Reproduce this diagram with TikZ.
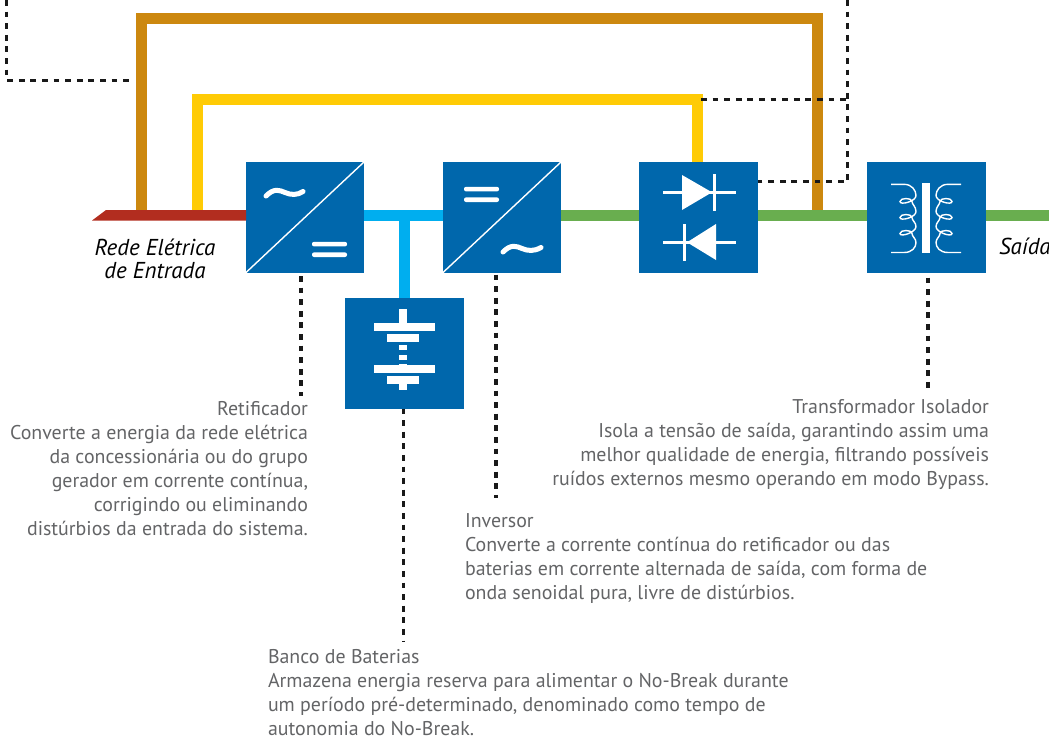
\documentclass[tikz,border=0pt]{standalone}
\usepackage{fontspec}
\setmainfont{PT Sans}
\definecolor{boxblue}{HTML}{0067AC}
\definecolor{dcblue}{HTML}{00AEEF}
\definecolor{acgreen}{HTML}{69AE4F}
\definecolor{inred}{HTML}{B22D1F}
\definecolor{bypassorange}{HTML}{CC880F}
\definecolor{diodeyellow}{HTML}{FFCB05}
\definecolor{txtgray}{HTML}{636466}
\tikzset{
  unitbox/.style={fill=boxblue,draw=none,minimum width=118.5pt,minimum height=110.5pt,inner sep=0pt,outer sep=0pt},
  powerline/.style={line width=11pt,line join=miter},
  signal/.style={line width=3.4pt,black!90,dash pattern=on 5.8pt off 5.8pt},
  icon/.style={fill=white,draw=none},
  wave/.style={white,line width=5pt,line cap=round},
  coilline/.style={white,line width=1.4pt},
  desc/.style={inner sep=0pt,outer sep=0pt,txtgray,font=\fontsize{19.9}{24}\selectfont},
  inlabel/.style={inner sep=0pt,outer sep=0pt,black,font=\fontsize{23}{23}\selectfont\itshape,align=center}
}
\newcommand{\coilshape}{%
  (-35,-34.2) -- (-22,-34.2) .. controls (-14,-34.2) and (-10,-28) .. (-10,-23)
  .. controls (-10,-17) and (-26,-13) .. (-26,-17)
  .. controls (-26,-21) and (-14,-21) .. (-14,-17)
  .. controls (-14,-14) and (-10,-12) .. (-10,-7)
  .. controls (-10,-1) and (-26,3) .. (-26,-1)
  .. controls (-26,-5) and (-14,-5) .. (-14,-1)
  .. controls (-14,2) and (-10,4) .. (-10,8)
  .. controls (-10,14) and (-26,19) .. (-26,15)
  .. controls (-26,11) and (-14,11) .. (-14,15)
  .. controls (-14,18) and (-10,20) .. (-10,24)
  .. controls (-10,29) and (-14,34) .. (-22,34) -- (-35,34)}
\begin{document}
\begin{tikzpicture}[x=1pt,y=-1pt]
\useasboundingbox (0,0) rectangle (1049,740);
\clip (0,0) rectangle (1049,740);
% units
\node[unitbox,anchor=north west,minimum width=118pt] (rect) at (246,162) {};
\node[unitbox,anchor=north west,minimum width=118pt] (inv) at (443,162) {};
\node[unitbox,anchor=north west] (bypass) at (639,162) {};
\node[unitbox,anchor=north west] (trafo) at (867,162) {};
\node[unitbox,anchor=north west] (batt) at (345,298) {};
% free ends
\coordinate (inL) at (106,215);
\coordinate (outR) at (1049,215.5);
\coordinate (dcT) at (404.5,215.5);
\coordinate (orgA) at (141,210);
\coordinate (orgB) at (817.5,210);
\coordinate (yelA) at (197,210);
\coordinate (yelB) at (697,162);
% power lines
\fill[inred] (92,220.5) -- (106,210) -- (rect.north west |- 0,210) -- (rect.north west |- 0,220.5) -- cycle;
\draw[powerline,dcblue] (rect.east |- dcT) -- (inv.west |- dcT);
\draw[powerline,dcblue] (dcT) -- (batt.north -| dcT);
\draw[powerline,acgreen] (inv.east |- outR) -- (bypass.west |- outR);
\draw[powerline,acgreen] (bypass.east |- outR) -- (trafo.west |- outR);
\draw[powerline,acgreen] (trafo.east |- outR) -- (outR);
\draw[powerline,bypassorange] (orgA) -- (141,18.5) -- (817.5,18.5) -- (orgB);
\draw[powerline,diodeyellow] (yelA) -- (197,99.5) -- (697,99.5) -- (yelB);
% control signals
\draw[signal] (6.5,0) -- (6.5,80.5) -- (134,80.5);
\draw[signal] (701,99.5) -- (847.7,99.5);
\draw[signal] (847.7,0) -- (847.7,181.5) -- (bypass.east |- 0,181.5);
% leader lines
\coordinate (retEnd) at (301,396);
\coordinate (invEnd) at (496,498);
\coordinate (batEnd) at (403.5,641);
\coordinate (traEnd) at (928,392);
\draw[signal] (rect.south -| retEnd) ++(0,3.5) -- (retEnd);
\draw[signal] (inv.south -| invEnd) ++(0,2) -- (invEnd);
\draw[signal] (batt.south -| batEnd) -- (batEnd);
\draw[signal] (trafo.south -| traEnd) ++(0,5) -- (traEnd);
% converter icons
\draw[white,line width=1.4pt] (rect.north east) -- (rect.south west);
\draw[white,line width=1.4pt] (inv.north east) -- (inv.south west);
\draw[wave] (266,196) .. controls (274,188) and (279,190) .. (285,192.5) .. controls (291,195) and (297,195.5) .. (303,191.5);
\draw[wave] (503,252) .. controls (511,244) and (516,246) .. (522,248.5) .. controls (528,251) and (534,251.5) .. (541,247.5);
\fill[icon,rounded corners=2pt] (312,241.8) rectangle (347,246.4);
\fill[icon,rounded corners=2pt] (312,252.4) rectangle (347,257);
\fill[icon,rounded corners=2pt] (464,186.8) rectangle (499,191.4);
\fill[icon,rounded corners=2pt] (464,197.4) rectangle (499,202);
% battery icon
\fill[icon] (399,309) rectangle (407,323);
\fill[icon] (374,323) rectangle (435,331);
\fill[icon] (387,334) rectangle (419,342);
\fill[icon] (399,345) rectangle (407,350);
\fill[icon] (399,355) rectangle (407,360);
\fill[icon] (399,364) rectangle (407,365);
\fill[icon] (374,365) rectangle (435,373);
\fill[icon] (387,376) rectangle (419,384);
\fill[icon] (399,384) rectangle (407,390);
% diode icons
\fill[icon] (663,190.8) rectangle (736,193.8);
\fill[icon] (682,175) -- (712,192.3) -- (682,210) -- cycle;
\fill[icon] (712.8,174) rectangle (715.8,211);
\fill[icon] (663,240.8) rectangle (736,243.8);
\fill[icon] (716,224) -- (687,242.3) -- (716,260) -- cycle;
\fill[icon] (682.8,224) rectangle (685.8,261);
% transformer icon
\fill[icon] (922,183) rectangle (930,253);
\draw[coilline,shift={(926,218.5)}] \coilshape;
\draw[coilline,shift={(926,218.5)},xscale=-1] \coilshape;
% labels
\node[inlabel,anchor=center] (inlab) at (155,259) {Rede Elétrica\\de Entrada};
\node[inlabel,anchor=west] (outlab) at (999,246.5) {Saída};
\node[desc,anchor=north east,align=right] (rettxt) at (308,401) {Retificador\\[0.2pt]Converte a energia da rede elétrica\\da concessionária ou do grupo\\gerador em corrente contínua,\\corrigindo ou eliminando\\distúrbios da entrada do sistema.};
\node[desc,anchor=north east,align=right] (tratxt) at (989,399) {Transformador Isolador\\Isola a tensão de saída, garantindo assim uma\\melhor qualidade de energia, filtrando possíveis\\ruídos externos mesmo operando em modo Bypass.};
\node[desc,anchor=north west,align=left] (invtxt) at (465,514) {Inversor\\Converte a corrente contínua do retificador ou das\\baterias em corrente alternada de saída, com forma de\\onda senoidal pura, livre de distúrbios.};
\node[desc,anchor=north west,align=left] (battxt) at (268,649.5) {Banco de Baterias\\Armazena energia reserva para alimentar o No-Break durante\\um período pré-determinado, denominado como tempo de\\autonomia do No-Break.};
\end{tikzpicture}
\end{document}
